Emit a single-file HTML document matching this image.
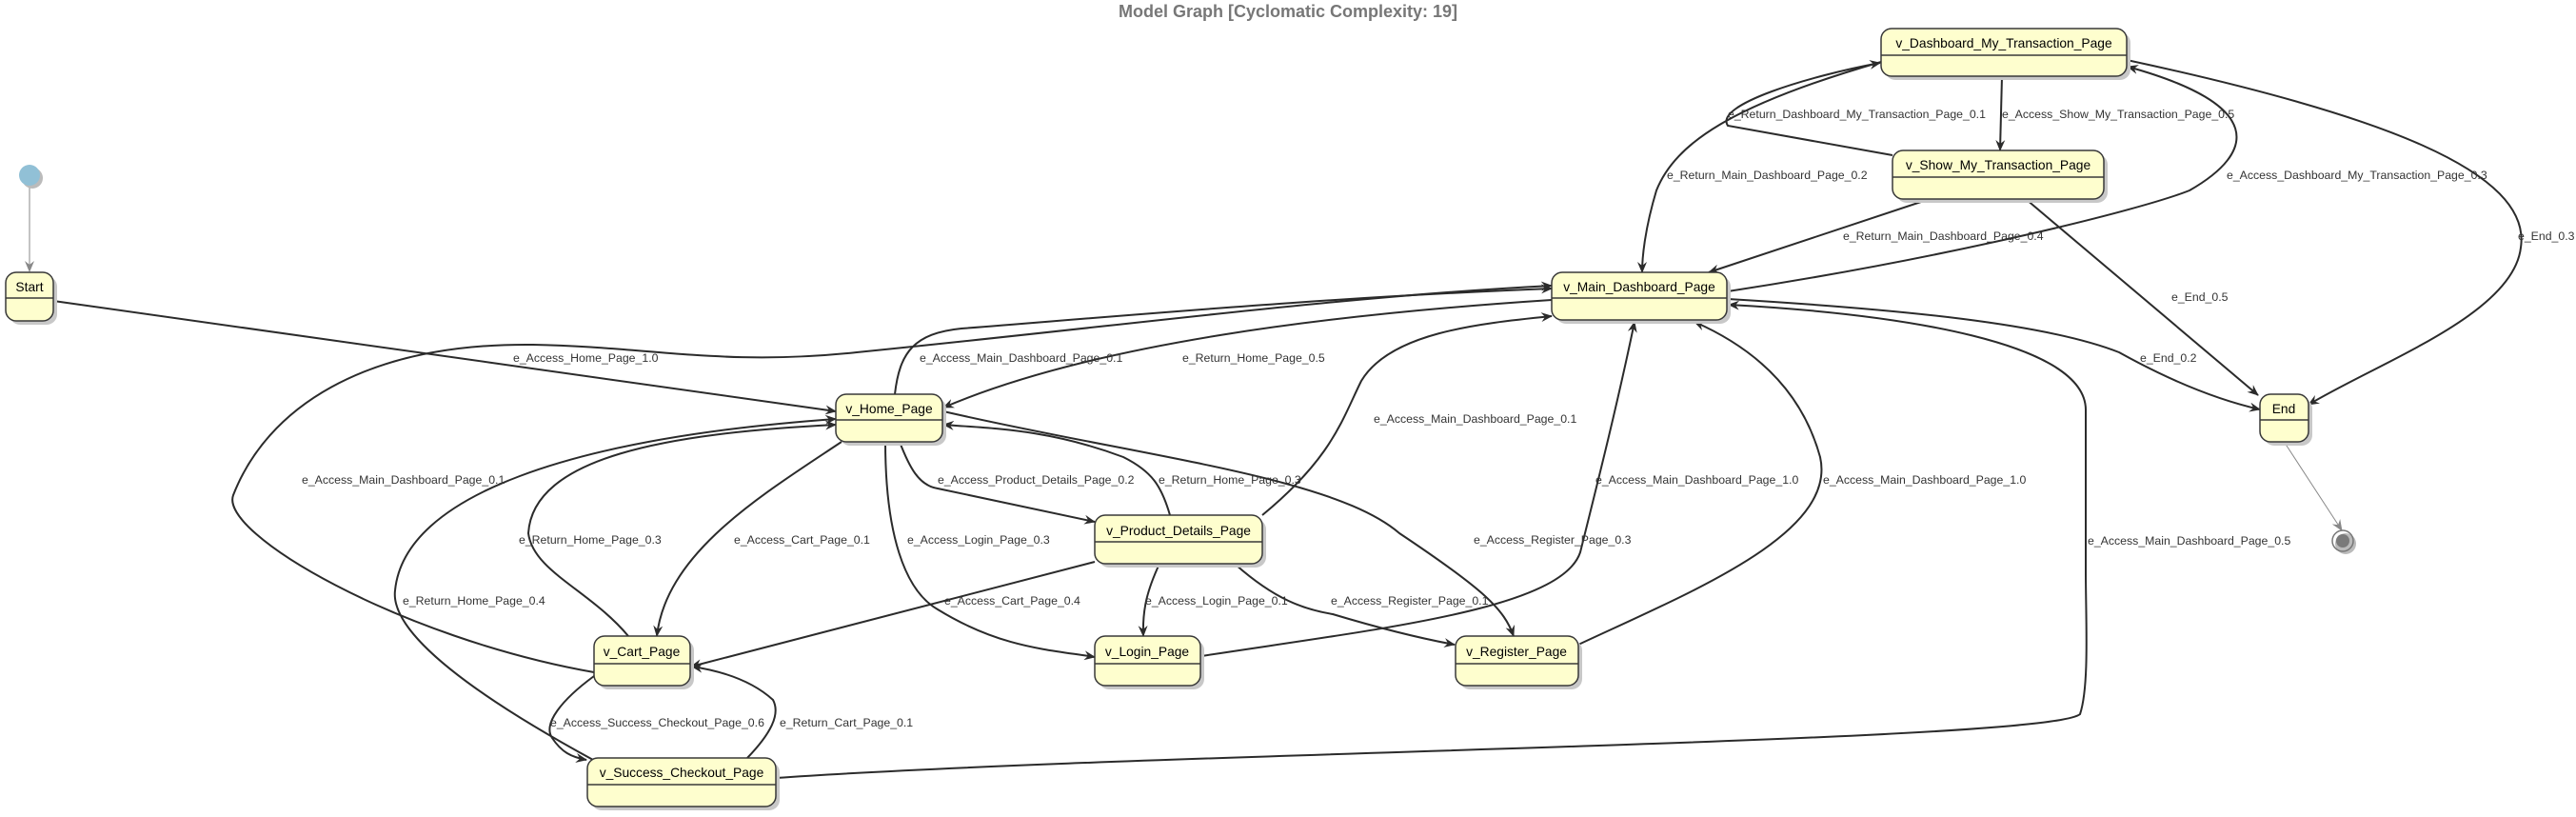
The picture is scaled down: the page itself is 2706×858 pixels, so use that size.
<!DOCTYPE html>
<html><head><meta charset="utf-8"><style>
html,body{margin:0;padding:0;background:#fff;}
svg{display:block;font-family:"Liberation Sans",sans-serif;}
.n{fill:#FEFECE;stroke:#383838;stroke-width:1.5;}
.sh{fill:#c8c8c8;}
.e{fill:none;stroke:#2b2b2b;stroke-width:2;}
.l{font-size:12.3px;fill:#333;}
.t{font-size:13.8px;fill:#000;}
</style></head><body>
<svg width="2706" height="858" viewBox="0 0 2706 858" xmlns="http://www.w3.org/2000/svg">
<defs>
<marker id="a" viewBox="0 0 12 10" refX="11" refY="5" markerWidth="12" markerHeight="10" markerUnits="userSpaceOnUse" orient="auto">
<path d="M0,0 L12,5 L0,10 L4,5 z" fill="#2b2b2b"/></marker>
<marker id="g" viewBox="0 0 12 10" refX="11" refY="5" markerWidth="12" markerHeight="10" markerUnits="userSpaceOnUse" orient="auto">
<path d="M0,0 L12,5 L0,10 L4,5 z" fill="#888"/></marker>
</defs>
<text x="1353" y="18" text-anchor="middle" font-size="18" font-weight="bold" fill="#777">Model Graph [Cyclomatic Complexity: 19]</text>

<g class="e" marker-end="url(#a)">
<path d="M56,316 L878,432"/>
<path d="M940,414 C945,370 960,350 1010,345 C1200,330 1400,312 1630,303"/>
<path d="M1630,315 C1400,330 1150,360 991,428"/>
<path d="M624,706 C420,670 230,560 245,520 C280,430 380,360 560,362 C680,364 760,385 900,370 C1200,340 1400,312 1630,300"/>
<path d="M660,668 C620,620 560,600 555,560 C560,480 700,455 878,446"/>
<path d="M623,798 C480,720 410,660 415,620 C425,520 600,460 878,440"/>
<path d="M884,464 C800,520 700,580 690,668"/>
<path d="M930,464 C930,560 950,620 985,640 C1050,680 1100,682 1150,690"/>
<path d="M945,464 C955,490 965,510 985,513 L1150,548"/>
<path d="M1229,541 C1220,510 1210,495 1180,480 C1100,450 1040,450 991,446"/>
<path d="M1326,541 C1400,480 1410,440 1430,400 C1460,350 1550,340 1630,332"/>
<path d="M991,432 C1200,480 1400,500 1470,560 C1560,620 1580,640 1590,668"/>
<path d="M1150,590 L726,700"/>
<path d="M1218,592 C1205,620 1200,640 1201,668"/>
<path d="M1298,593 C1340,630 1370,640 1400,645 C1450,660 1490,670 1528,677"/>
<path d="M1262,689 C1450,660 1640,640 1660,580 C1680,500 1700,420 1717,338"/>
<path d="M1658,677 C1780,620 1930,560 1912,480 C1890,400 1830,360 1780,338"/>
<path d="M815,817 C1200,790 2150,780 2185,750 C2195,720 2191,650 2191,600 L2191,430 C2190,360 2000,330 1816,320"/>
<path d="M1815,314 C2000,325 2150,340 2226,370 C2280,400 2330,420 2374,430"/>
<path d="M2128,209 L2372,415"/>
<path d="M2234,63 C2500,120 2660,180 2648,260 C2640,330 2500,380 2425,425"/>
<path d="M2103,80 L2101,158"/>
<path d="M1988,163 L1815,132 C1800,110 1900,80 1975,66"/>
<path d="M1976,65 C1820,110 1760,150 1740,200 C1728,240 1725,270 1725,286"/>
<path d="M2027,209 L1795,286"/>
<path d="M1815,306 C2050,270 2250,220 2300,200 C2370,160 2380,110 2235,70"/>
<path d="M785,796 C810,770 820,750 812,735 C790,715 760,705 727,700"/>
<path d="M624,710 C590,735 570,760 580,775 C590,790 600,795 616,798"/>
</g>
<path d="M31,195 L31,285" stroke="#888" stroke-width="1" fill="none" marker-end="url(#g)"/>
<path d="M2400,465 L2460,557" stroke="#888" stroke-width="1" fill="none" marker-end="url(#g)"/>

<ellipse cx="34" cy="187" rx="11" ry="11" fill="#bbb"/>
<ellipse cx="31" cy="184" rx="11" ry="11" fill="#91C0D6"/>
<circle cx="2464" cy="571" r="11" fill="#bbb"/>
<circle cx="2461" cy="568" r="11" fill="none" stroke="#777" stroke-width="1.5"/>
<circle cx="2461" cy="568" r="7" fill="#7a7a7a"/>

<g>
<rect class="sh" x="10" y="290" width="50" height="51" rx="11"/>
<rect class="n" x="6" y="286" width="50" height="51" rx="11"/><line x1="6" y1="313" x2="56" y2="313" stroke="#383838" stroke-width="1.5"/>
<text class="t" x="31" y="306" text-anchor="middle">Start</text>

<rect class="sh" x="882" y="418" width="112" height="50" rx="11"/>
<rect class="n" x="878" y="414" width="112" height="50" rx="11"/><line x1="878" y1="441" x2="990" y2="441" stroke="#383838" stroke-width="1.5"/>
<text class="t" x="934" y="434" text-anchor="middle">v_Home_Page</text>

<rect class="sh" x="1634" y="290" width="184" height="50" rx="11"/>
<rect class="n" x="1630" y="286" width="184" height="50" rx="11"/><line x1="1630" y1="313" x2="1814" y2="313" stroke="#383838" stroke-width="1.5"/>
<text class="t" x="1722" y="306" text-anchor="middle">v_Main_Dashboard_Page</text>

<rect class="sh" x="1980" y="34" width="258" height="50" rx="11"/>
<rect class="n" x="1976" y="30" width="258" height="50" rx="11"/><line x1="1976" y1="58" x2="2234" y2="58" stroke="#383838" stroke-width="1.5"/>
<text class="t" x="2105" y="50" text-anchor="middle">v_Dashboard_My_Transaction_Page</text>

<rect class="sh" x="1992" y="162" width="222" height="51" rx="11"/>
<rect class="n" x="1988" y="158" width="222" height="51" rx="11"/><line x1="1988" y1="186" x2="2210" y2="186" stroke="#383838" stroke-width="1.5"/>
<text class="t" x="2099" y="178" text-anchor="middle">v_Show_My_Transaction_Page</text>

<rect class="sh" x="2378" y="418" width="51" height="50" rx="11"/>
<rect class="n" x="2374" y="414" width="51" height="50" rx="11"/><line x1="2374" y1="441" x2="2425" y2="441" stroke="#383838" stroke-width="1.5"/>
<text class="t" x="2399" y="434" text-anchor="middle">End</text>

<rect class="sh" x="1154" y="545" width="176" height="51" rx="11"/>
<rect class="n" x="1150" y="541" width="176" height="51" rx="11"/><line x1="1150" y1="569" x2="1326" y2="569" stroke="#383838" stroke-width="1.5"/>
<text class="t" x="1238" y="562" text-anchor="middle">v_Product_Details_Page</text>

<rect class="sh" x="628" y="672" width="101" height="52" rx="11"/>
<rect class="n" x="624" y="668" width="101" height="52" rx="11"/><line x1="624" y1="697" x2="725" y2="697" stroke="#383838" stroke-width="1.5"/>
<text class="t" x="674" y="689" text-anchor="middle">v_Cart_Page</text>

<rect class="sh" x="1154" y="672" width="111" height="52" rx="11"/>
<rect class="n" x="1150" y="668" width="111" height="52" rx="11"/><line x1="1150" y1="697" x2="1261" y2="697" stroke="#383838" stroke-width="1.5"/>
<text class="t" x="1205" y="689" text-anchor="middle">v_Login_Page</text>

<rect class="sh" x="1533" y="672" width="129" height="52" rx="11"/>
<rect class="n" x="1529" y="668" width="129" height="52" rx="11"/><line x1="1529" y1="697" x2="1658" y2="697" stroke="#383838" stroke-width="1.5"/>
<text class="t" x="1593" y="689" text-anchor="middle">v_Register_Page</text>

<rect class="sh" x="621" y="800" width="198" height="51" rx="11"/>
<rect class="n" x="617" y="796" width="198" height="51" rx="11"/><line x1="617" y1="824" x2="815" y2="824" stroke="#383838" stroke-width="1.5"/>
<text class="t" x="716" y="816" text-anchor="middle">v_Success_Checkout_Page</text>
</g>

<g class="l">
<text x="539" y="380">e_Access_Home_Page_1.0</text>
<text x="966" y="380">e_Access_Main_Dashboard_Page_0.1</text>
<text x="1242" y="380">e_Return_Home_Page_0.5</text>
<text x="317" y="508">e_Access_Main_Dashboard_Page_0.1</text>
<text x="985" y="508">e_Access_Product_Details_Page_0.2</text>
<text x="1217" y="508">e_Return_Home_Page_0.3</text>
<text x="1443" y="444">e_Access_Main_Dashboard_Page_0.1</text>
<text x="545" y="571">e_Return_Home_Page_0.3</text>
<text x="771" y="571">e_Access_Cart_Page_0.1</text>
<text x="953" y="571">e_Access_Login_Page_0.3</text>
<text x="1548" y="571">e_Access_Register_Page_0.3</text>
<text x="423" y="635">e_Return_Home_Page_0.4</text>
<text x="992" y="635">e_Access_Cart_Page_0.4</text>
<text x="1203" y="635">e_Access_Login_Page_0.1</text>
<text x="1398" y="635">e_Access_Register_Page_0.1</text>
<text x="578" y="763">e_Access_Success_Checkout_Page_0.6</text>
<text x="819" y="763">e_Return_Cart_Page_0.1</text>
<text x="1815" y="124">e_Return_Dashboard_My_Transaction_Page_0.1</text>
<text x="2103" y="124">e_Access_Show_My_Transaction_Page_0.5</text>
<text x="1751" y="188">e_Return_Main_Dashboard_Page_0.2</text>
<text x="2339" y="188">e_Access_Dashboard_My_Transaction_Page_0.3</text>
<text x="1936" y="252">e_Return_Main_Dashboard_Page_0.4</text>
<text x="2645" y="252">e_End_0.3</text>
<text x="2281" y="316">e_End_0.5</text>
<text x="2248" y="380">e_End_0.2</text>
<text x="1676" y="508">e_Access_Main_Dashboard_Page_1.0</text>
<text x="1915" y="508">e_Access_Main_Dashboard_Page_1.0</text>
<text x="2193" y="572">e_Access_Main_Dashboard_Page_0.5</text>
</g>
</svg>
</body></html>
